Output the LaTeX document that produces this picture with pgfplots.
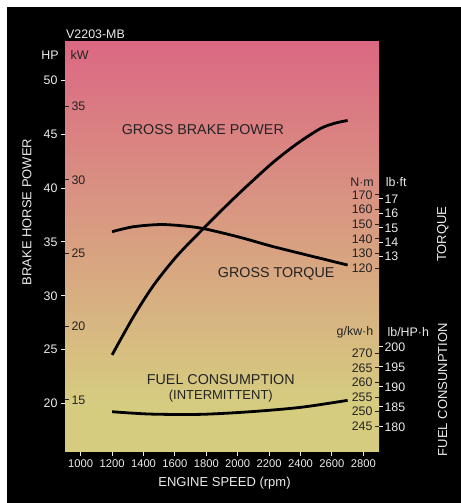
\documentclass[border=0pt]{standalone}
\usepackage{fontspec}
\setmainfont{Liberation Sans}
\usepackage{pgfplots}
\pgfplotsset{compat=1.18}

\definecolor{bgpink}{RGB}{219,104,131}
\definecolor{bgkhaki}{RGB}{214,204,128}
\definecolor{txtlight}{RGB}{235,235,235}
\definecolor{txtdark}{RGB}{35,35,35}
\pgfdeclareverticalshading{chartbg}{100bp}{color(0bp)=(bgkhaki); color(31bp)=(bgkhaki); color(75bp)=(bgpink); color(100bp)=(bgpink)}

\newcommand{\tickfont}{\fontsize{12.4bp}{14bp}\selectfont}
\newcommand{\titlefont}{\fontsize{13bp}{15bp}\selectfont}
\newcommand{\curvefont}{\fontsize{14.3bp}{16bp}\selectfont}

\pgfplotsset{
  base/.style={
    scale only axis, width=314bp, height=410bp,
    at={(65bp,51bp)}, anchor=south west,
    xmin=900, xmax=2900, xtick=\empty,
    axis line style={draw=none},
    major tick length=4bp,
    ticklabel style={font=\tickfont},
    /pgf/number format/assume math mode=true,
    /pgf/number format/1000 sep={},
    clip=false,
  },
  curve/.style={black, line width=2.8bp, smooth, no marks},
  outer ticks/.style={tick align=outside, tick style={txtlight, line width=1bp}, yticklabel style={txtlight}},
  inner ticks/.style={tick align=inside, tick style={txtdark, line width=1bp}, yticklabel style={txtdark}},
}

\begin{document}
\begin{tikzpicture}[x=1bp,y=1bp]
\useasboundingbox (0,0) rectangle (461,503);
\fill[white] (0,0) rectangle (461,503);
\fill[black] (7,0) rectangle (461,496);

% brake horse power (HP), engine speed axis
\begin{axis}[base,
  axis background/.style={shading=chartbg},
  ymin=15.47, ymax=53.6, ytick={20,25,...,50}, ytick pos=left,
  xtick={1000,1200,...,2800}, xtick pos=bottom,
  outer ticks,
  xticklabel style={txtlight, font=\fontsize{11.2bp}{13bp}\selectfont},
]
\addplot[curve] coordinates {
  (1200,24.5) (1336,28.05) (1463,30.95) (1613,33.7) (1783,36.27) (1953,38.74)
  (2081,40.5) (2229,42.45) (2379,44.15) (2527,45.55) (2620,46.05) (2700,46.3)
};
\end{axis}

% kW
\begin{axis}[base,
  ymin=11.45, ymax=39.41, ytick={15,20,...,35}, ytick pos=left,
  inner ticks,
  yticklabel style={anchor=west, xshift=3bp},
]
\end{axis}

% torque N.m
\begin{axis}[base,
  ymin=-5.7, ymax=274.6, ytick={120,130,...,170}, ytick pos=right,
  inner ticks,
  yticklabel style={anchor=east, xshift=-3bp},
]
\addplot[curve] coordinates {
  (1200,144.9) (1336,148.3) (1506,149.8) (1650,148.9) (1783,147.0)
  (2006,141.3) (2219,134.9) (2432,129.2) (2700,122.1)
};
\end{axis}

% torque lb.ft
\begin{axis}[base,
  ymin=-0.54, ymax=27.88, ytick={13,14,...,17}, ytick pos=right,
  outer ticks,
  yticklabel style={xshift=-2bp},
]
\end{axis}

% fuel g/kW.h
\begin{axis}[base,
  ymin=236.2, ymax=376.7, ytick={245,250,...,270}, ytick pos=right,
  inner ticks,
  yticklabel style={anchor=east, xshift=-3bp},
]
\addplot[curve] coordinates {
  (1200,250.0) (1442,249.2) (1761,249.1) (2081,250.0) (2400,251.5) (2700,253.9)
};
\end{axis}

% fuel lb/HP.h
\begin{axis}[base,
  ymin=173.7, ymax=276.2, ytick={180,185,...,200}, ytick pos=right,
  outer ticks,
  yticklabel style={xshift=-2bp},
]
\end{axis}

% labels
\node[anchor=west, txtlight, font=\tickfont, inner sep=0] at (66,468.5) {V2203-MB};
\node[txtlight, font=\tickfont] at (50,448) {HP};
\node[txtdark, font=\tickfont] at (79.7,448) {kW};
\node[txtlight, font=\titlefont, rotate=90] at (27,291) {BRAKE HORSE POWER};
\node[txtlight, font=\titlefont] at (224.5,20.2) {ENGINE SPEED (rpm)};
\node[txtdark, font=\curvefont] at (202.8,373) {GROSS BRAKE POWER};
\node[txtdark, font=\curvefont] at (276.2,228.7) {GROSS TORQUE};
\node[txtdark, font=\curvefont] at (220.8,123) {FUEL CONSUMPTION};
\node[txtdark, font=\fontsize{13bp}{15bp}\selectfont] at (220.8,107) {(INTERMITTENT)};
\node[txtdark, font=\tickfont] at (362,321) {N·m};
\node[txtlight, font=\tickfont] at (396.3,321) {lb·ft};
\node[txtlight, font=\titlefont, rotate=90] at (442.7,268.8) {TORQUE};
\node[txtdark, font=\tickfont] at (355,170.5) {g/kw·h};
\node[txtlight, font=\tickfont] at (408.3,170.5) {lb/HP·h};
\node[txtlight, font=\titlefont, rotate=90] at (442.7,113.3) {FUEL CONSUNPTION};
\end{tikzpicture}
\end{document}
